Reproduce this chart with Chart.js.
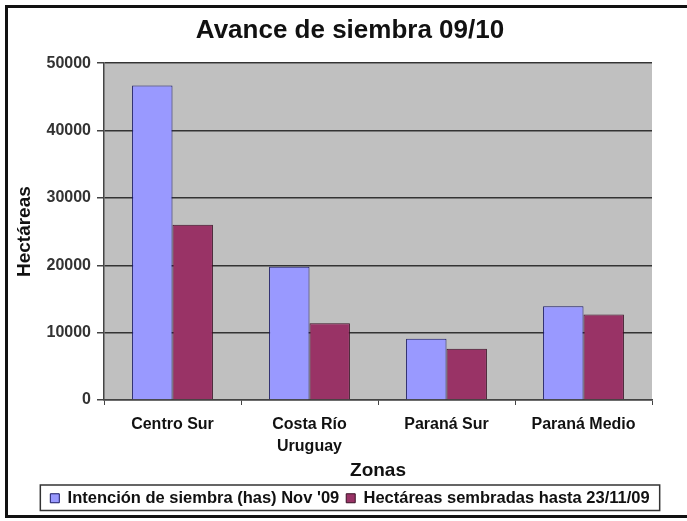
<!DOCTYPE html>
<html lang="es">
<head>
<meta charset="UTF-8">
<title>Avance de siembra 09/10</title>
<script src="https://cdn.jsdelivr.net/npm/chart.js"></script>
<style>
    body { margin: 0; background: #fff; }
    #wrap { position: relative; width: 687px; height: 521px; overflow: hidden; }
    #frame { position: absolute; left: 5px; top: 5px; width: 690px; height: 513px; border: 3px solid #111; box-sizing: border-box; }
    canvas { position: absolute; left: 0; top: 0; }
</style>
</head>
<body>
<div id="wrap">
    <div id="frame"></div>
    <canvas id="chart" width="687" height="521"></canvas>
</div>
<script>
    const zonas = ["Centro Sur", ["Costa Río", "Uruguay"], "Paraná Sur", "Paraná Medio"];
    const intencion = [46700, 19800, 9100, 13900];
    const sembradas = [26000, 11400, 7600, 12700];
    const yTicks = [0, 10000, 20000, 30000, 40000, 50000];

    // fondo gris del área de trazado y recuadro de la leyenda
    const plotBg = {
        id: "plotBg",
        beforeDraw(chart) {
            const a = chart.chartArea;
            const c = chart.ctx;
            c.save();
            c.fillStyle = "#c0c0c0";
            c.fillRect(a.left, a.top, a.right - a.left, a.bottom - a.top);
            c.restore();
        },
        afterDraw(chart) {
            const boxes = chart.legend.legendHitBoxes;
            if (!boxes || !boxes.length) return;
            const x0 = Math.min(...boxes.map(b => b.left)) - 10;
            const x1 = Math.max(...boxes.map(b => b.left + b.width)) + 10;
            const y0 = boxes[0].top - 5;
            const y1 = boxes[0].top + boxes[0].height + 4;
            const c = chart.ctx;
            c.save();
            c.strokeStyle = "#333";
            c.lineWidth = 1.5;
            c.strokeRect(x0, y0, x1 - x0, y1 - y0);
            c.restore();
        }
    };

    const ctx = document.getElementById("chart").getContext("2d");
    new Chart(ctx, {
        type: "bar",
        data: {
            labels: zonas,
            datasets: [{
                label: "Intención de siembra (has) Nov '09",
                data: intencion,
                backgroundColor: "#9999ff",
                borderColor: "#1a1a66",
                borderWidth: 1
            }, {
                label: "Hectáreas sembradas hasta 23/11/09",
                data: sembradas,
                backgroundColor: "#993366",
                borderColor: "#3a1024",
                borderWidth: 1
            }]
        },
        options: {
            responsive: false,
            animation: false,
            layout: { padding: { left: 13, right: 0, top: 0, bottom: 8 } },
            categoryPercentage: 0.59,
            barPercentage: 1.0,
            plugins: {
                title: {
                    display: true,
                    text: "Avance de siembra 09/10",
                    color: "#111",
                    font: { family: "Arial", size: 26, weight: "bold", lineHeight: 1.2 },
                    padding: { top: 15, bottom: 17 }
                },
                legend: {
                    position: "bottom",
                    maxHeight: 30,
                    labels: {
                        color: "#111",
                        font: { family: "Arial", size: 16.5, weight: "bold" },
                        boxWidth: 9,
                        boxHeight: 9,
                        padding: 7
                    }
                },
                tooltip: { enabled: false }
            },
            scales: {
                x: {
                    afterFit(axis) { axis.height = 83; },
                    grid: { drawOnChartArea: false, drawTicks: true, offset: true, tickLength: 5, color: "#444" },
                    border: { color: "#444", width: 1.5 },
                    ticks: {
                        color: "#111",
                        font: { family: "Arial", size: 16, weight: "bold", lineHeight: 1.35 },
                        maxRotation: 0,
                        padding: 9
                    },
                    title: {
                        display: true,
                        text: "Zonas",
                        color: "#111",
                        font: { family: "Arial", size: 19, weight: "bold" },
                        padding: { top: 0, bottom: 1 }
                    }
                },
                y: {
                    min: 0,
                    max: 50000,
                    afterFit(axis) { axis.width = 91; },
                    afterBuildTicks(axis) { axis.ticks = yTicks.map(v => ({ value: v })); },
                    grid: {
                        color: "#333",
                        lineWidth: 1.5,
                        tickLength: 7,
                        tickColor: "#444"
                    },
                    border: { color: "#444", width: 1.5 },
                    ticks: {
                        color: "#333",
                        font: { family: "Arial", size: 16, weight: "bold" },
                        padding: 6,
                        callback: v => String(v)
                    },
                    title: {
                        display: true,
                        text: "Hectáreas",
                        color: "#111",
                        font: { family: "Arial", size: 19, weight: "bold" },
                        padding: { top: 0, bottom: 0 }
                    }
                },
                yPad: {
                    position: "right",
                    afterFit(axis) { axis.width = 35; },
                    ticks: { display: false },
                    grid: { display: false },
                    border: { display: false }
                }
            }
        },
        plugins: [plotBg]
    });
</script>
</body>
</html>
